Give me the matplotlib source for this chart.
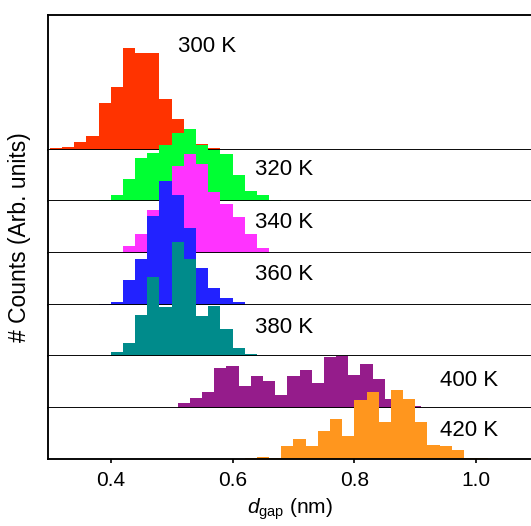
import numpy as np
import matplotlib
matplotlib.use('Agg')
import matplotlib.pyplot as plt

plt.rcParams['font.family'] = ['Liberation Sans', 'DejaVu Sans']
plt.rcParams['mathtext.fontset'] = 'custom'
plt.rcParams['mathtext.rm'] = 'Liberation Sans'
plt.rcParams['mathtext.it'] = 'Liberation Sans:italic'

# ---- data (counts, arbitrary units) ----
labels = ['300 K', '320 K', '340 K', '360 K', '380 K', '400 K', '420 K']
bin_width = 0.02
starts = [0.30, 0.38, 0.42, 0.38, 0.40, 0.51, 0.62]

counts_300 = [1.7, 3.3, 7.7, 14.3, 46.7, 62.7, 101.7, 96.7, 96.7, 51, 30.7, 15, 6, 2]
counts_320 = [1.7, 6.7, 22, 43.3, 48.3, 56.7, 68.3, 72.7, 56.7, 51.7, 47.3, 26, 10.7, 6, 1.7]
counts_340 = [6.7, 18.7, 43.3, 60, 86.7, 99.3, 89.3, 61, 48.7, 36, 18.7, 5.3]
counts_360 = [0.7, 2.3, 24.3, 46, 88.3, 124, 110, 77, 36.8, 16.8, 6.2, 2.8]
counts_380 = [4, 13, 41, 79, 49.5, 114, 96.7, 40, 50.3, 27.5, 7.8, 2.2]
counts_400 = [4.2, 10, 15.3, 39.3, 41.7, 21.3, 32, 27, 13, 31.7, 37.3, 24.3,
              50.5, 52, 32.3, 43.7, 28.3, 9, 5, 2]
counts_420 = [1, 1.7, 1, 12.7, 20, 12.7, 28.3, 40.3, 22.7, 59, 67, 37, 69.3,
              60, 37, 14.3, 13.3, 8.7, 1, 0.7, 0.3]

all_counts = [counts_300, counts_320, counts_340, counts_360,
              counts_380, counts_400, counts_420]
colors = ['#FF3300', '#00FF33', '#FF33FF', '#2222FF', '#008B8B', '#951C8B', '#FF961E']

xticks = [0.4, 0.6, 0.8, 1.0]
xticklabels = ['0.4', '0.6', '0.8', '1.0']

# label placement (x in nm, y in panel units)
label_pos = [(0.511, 103), (0.637, 32), (0.637, 30.5), (0.637, 30),
             (0.637, 28.5), (0.94, 27), (0.94, 29)]

# ---- figure ----
W, H = 531, 526
fig = plt.figure(figsize=(W / 100, H / 100), dpi=100)
top_h = 135.0
row_h = 51.5
gs = fig.add_gridspec(7, 1, height_ratios=[top_h] + [row_h] * 6,
                      left=48 / W, right=1.0, top=1 - 15 / H, bottom=1 - 459 / H,
                      hspace=0)

axes = []
for i in range(7):
    ax = fig.add_subplot(gs[i])
    axes.append(ax)
    vals = np.array(all_counts[i])
    edges = starts[i] + bin_width * np.arange(len(vals) + 1)
    ax.stairs(vals, edges, fill=True, color=colors[i], linewidth=0,
              clip_on=False, zorder=1)
    ax.set_xlim(0.297, 1.09)
    ax.set_ylim(0, top_h if i == 0 else row_h)
    ax.set_yticks([])
    ax.spines['right'].set_visible(False)
    if i > 0:
        ax.spines['top'].set_visible(False)
    for s in ['left', 'bottom', 'top']:
        ax.spines[s].set_linewidth(1.35)
    ax.set_xticks(xticks)
    ax.tick_params(axis='x', direction='out', length=3, width=1.2,
                   labelbottom=(i == 6), labelsize=15, pad=5.5)
    if i == 6:
        ax.set_xticklabels(xticklabels)
    lx, ly = label_pos[i]
    ax.text(lx, ly, labels[i], fontsize=16, ha='left', va='center', zorder=5)

fig.text(20 / W, 1 - 237 / H, '# Counts (Arb. units)', rotation=90,
         ha='center', va='center', fontsize=16.5)
fig.text(290 / W, 4 / H, r'$d_{\mathrm{gap}}$ (nm)', ha='center',
         va='bottom', fontsize=15)

fig.savefig('out.png', dpi=100)
